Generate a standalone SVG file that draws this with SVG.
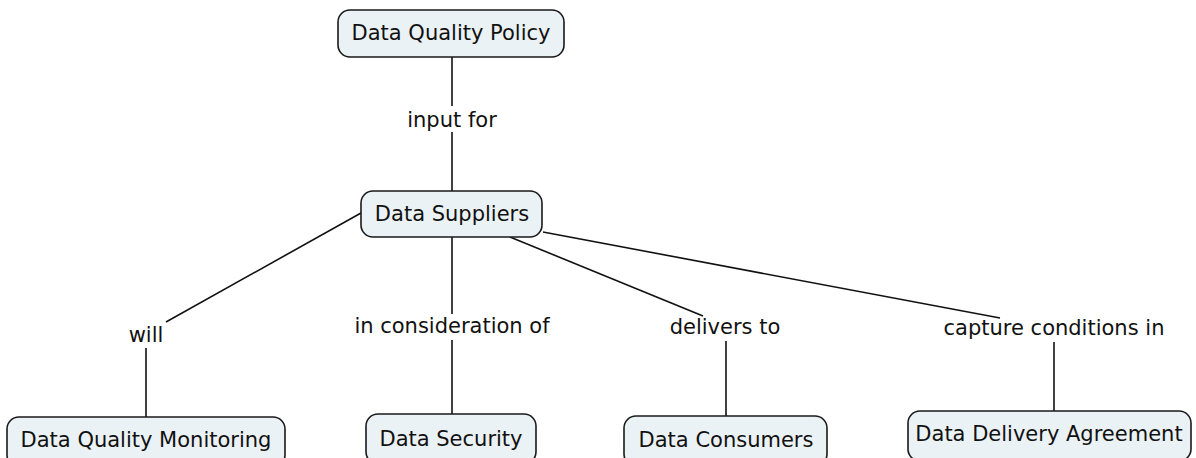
<svg xmlns="http://www.w3.org/2000/svg" width="1196" height="458" viewBox="0 0 1196 458">
<style>
.node rect{fill:#ebf2f5;stroke:#1a1a1a;stroke-width:1.6}
text{font-family:"DejaVu Sans","Liberation Sans",sans-serif;font-size:21px;fill:#111;text-anchor:middle}
.conn line{stroke:#111;stroke-width:1.6}
</style>
<rect width="1196" height="458" fill="#fff"/>
<g class="conn" id="connectors">
<line x1="452" y1="57" x2="452" y2="106"/>
<line x1="452" y1="132" x2="452" y2="191"/>
<line x1="361" y1="213" x2="166" y2="322"/>
<line x1="146" y1="348" x2="146" y2="417"/>
<line x1="452" y1="237" x2="452" y2="314"/>
<line x1="452" y1="340" x2="452" y2="414"/>
<line x1="510" y1="237" x2="703" y2="316"/>
<line x1="726" y1="341" x2="726" y2="416"/>
<line x1="543" y1="232" x2="1000" y2="318"/>
<line x1="1054" y1="342" x2="1054" y2="411"/>
<text x="452" y="127">input for</text>
<text x="146" y="342">will</text>
<text x="452" y="333">in consideration of</text>
<text x="725" y="334">delivers to</text>
<text x="1054" y="335">capture conditions in</text>
</g>
<g class="node" id="n-policy"><rect x="338" y="10" width="226" height="47" rx="12"/><text x="451" y="40">Data Quality Policy</text></g>
<g class="node" id="n-suppliers"><rect x="361" y="191" width="181" height="46" rx="12"/><text x="452" y="221">Data Suppliers</text></g>
<g class="node" id="n-monitoring"><rect x="7" y="417" width="278" height="50" rx="12"/><text x="146" y="447">Data Quality Monitoring</text></g>
<g class="node" id="n-security"><rect x="366" y="414" width="170" height="50" rx="12"/><text x="451" y="446">Data Security</text></g>
<g class="node" id="n-consumers"><rect x="624" y="416" width="203" height="50" rx="12"/><text x="726" y="447">Data Consumers</text></g>
<g class="node" id="n-agreement"><rect x="908" y="411" width="283" height="50" rx="12"/><text x="1049" y="441">Data Delivery Agreement</text></g>
</svg>
